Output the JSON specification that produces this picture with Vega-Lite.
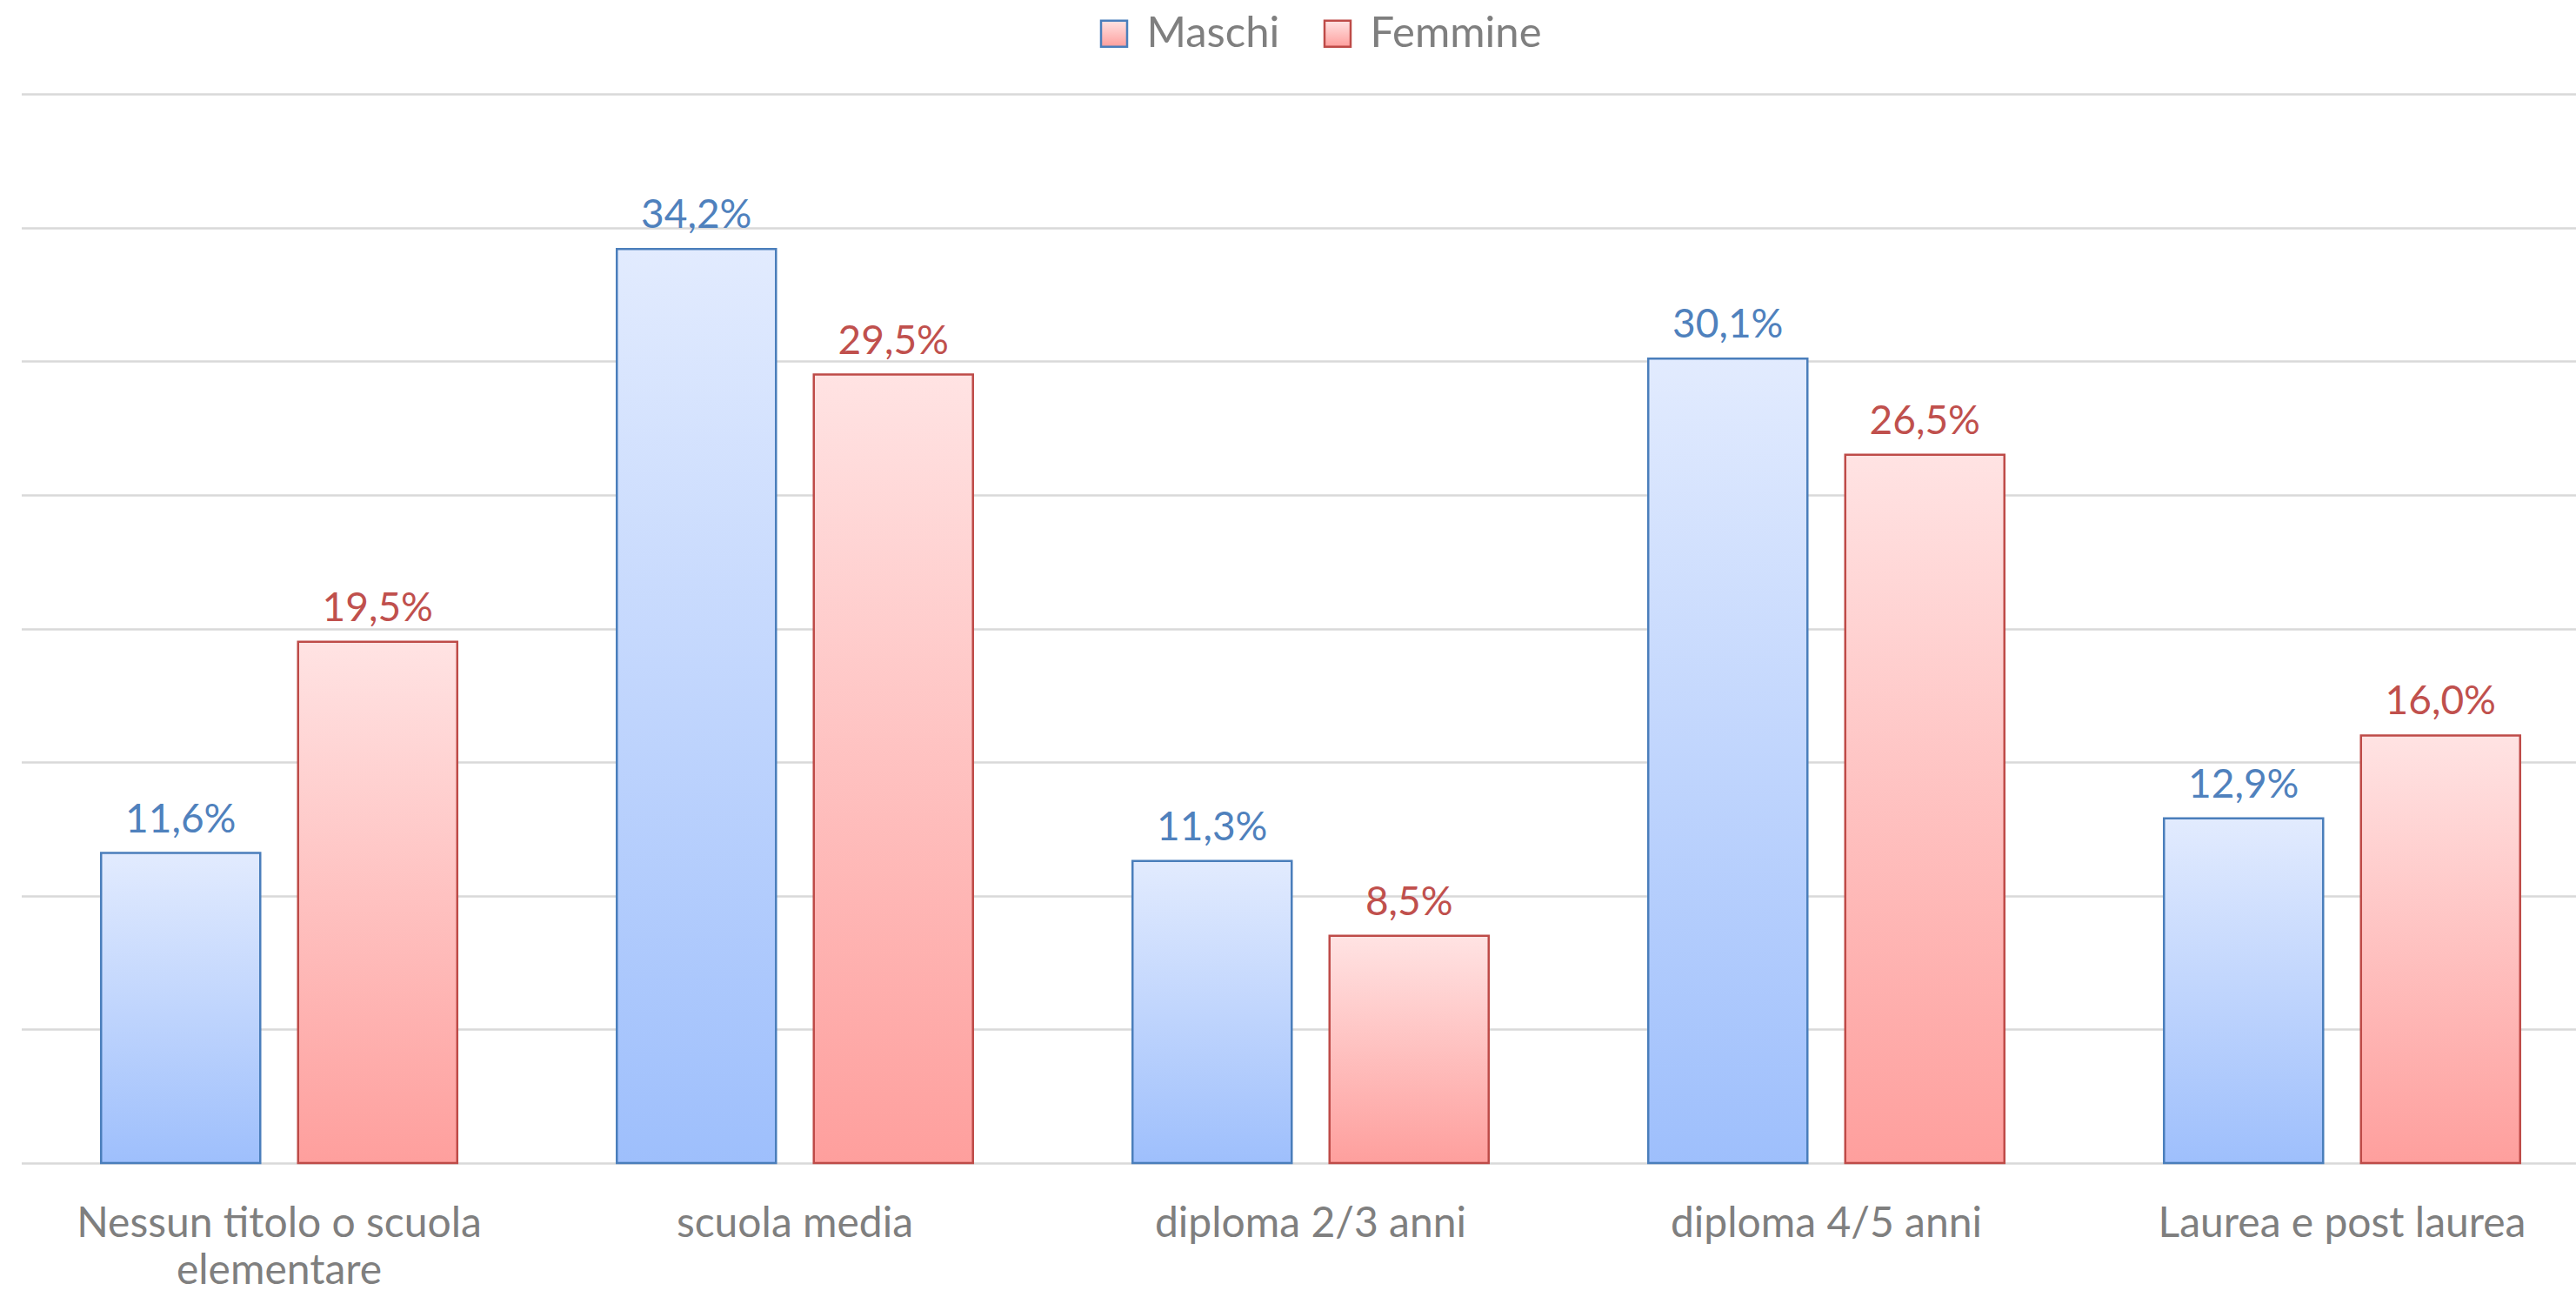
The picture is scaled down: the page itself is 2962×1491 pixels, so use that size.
{
  "$schema": "https://vega.github.io/schema/vega-lite/v6.json",
  "width": 2937.5,
  "height": 1229,
  "autosize": {"type": "none"},
  "padding": {"left": 24.5, "top": 108, "right": 0, "bottom": 154},
  "background": "white",
  "config": {
    "view": {"stroke": null},
    "font": "Lato",
    "locale": {"number": {"decimal": ",", "thousands": ".", "grouping": [3], "currency": ["€", ""]}}
  },
  "data": {
    "values": [
      {"titolo": "Nessun titolo o scuola elementare", "sesso": "Maschi", "quota": 0.116},
      {"titolo": "Nessun titolo o scuola elementare", "sesso": "Femmine", "quota": 0.195},
      {"titolo": "scuola media", "sesso": "Maschi", "quota": 0.342},
      {"titolo": "scuola media", "sesso": "Femmine", "quota": 0.295},
      {"titolo": "diploma 2/3 anni", "sesso": "Maschi", "quota": 0.113},
      {"titolo": "diploma 2/3 anni", "sesso": "Femmine", "quota": 0.085},
      {"titolo": "diploma 4/5 anni", "sesso": "Maschi", "quota": 0.301},
      {"titolo": "diploma 4/5 anni", "sesso": "Femmine", "quota": 0.265},
      {"titolo": "Laurea e post laurea", "sesso": "Maschi", "quota": 0.129},
      {"titolo": "Laurea e post laurea", "sesso": "Femmine", "quota": 0.16}
    ]
  },
  "encoding": {
    "x": {
      "field": "titolo",
      "type": "nominal",
      "sort": null,
      "scale": {"range": [0, 2965], "paddingInner": 0, "paddingOuter": 0},
      "axis": {
        "title": null,
        "ticks": false,
        "domain": false,
        "labelAngle": 0,
        "labelLimit": 0,
        "labelFontSize": 48,
        "labelColor": "#7F7F7F",
        "labelPadding": 46,
        "labelLineHeight": 54,
        "labelExpr": "datum.value == 'Nessun titolo o scuola elementare' ? ['Nessun titolo o scuola', 'elementare'] : datum.value"
      }
    },
    "xOffset": {
      "field": "sesso",
      "type": "nominal",
      "sort": ["Maschi", "Femmine"],
      "scale": {"paddingInner": 0.192, "paddingOuter": 0.405}
    },
    "y": {
      "field": "quota",
      "type": "quantitative",
      "scale": {"domain": [0, 0.4], "nice": false},
      "axis": {
        "title": null,
        "values": [0, 0.05, 0.1, 0.15, 0.2, 0.25, 0.3, 0.35, 0.4],
        "labels": false,
        "ticks": false,
        "domain": false,
        "gridColor": "#D9D9D9",
        "gridWidth": 2.5
      }
    }
  },
  "layer": [
    {
      "mark": {"type": "bar", "strokeWidth": 2.5},
      "encoding": {
        "fill": {
          "condition": {
            "test": "datum.sesso === 'Maschi'",
            "value": {"gradient": "linear", "x1": 0, "y1": 0, "x2": 0, "y2": 1, "stops": [{"offset": 0, "color": "#E2EBFE"}, {"offset": 1, "color": "#9EBFFC"}]}
          },
          "value": {"gradient": "linear", "x1": 0, "y1": 0, "x2": 0, "y2": 1, "stops": [{"offset": 0, "color": "#FFE3E3"}, {"offset": 1, "color": "#FE9F9D"}]}
        },
        "stroke": {
          "field": "sesso",
          "type": "nominal",
          "sort": ["Maschi", "Femmine"],
          "scale": {"domain": ["Maschi", "Femmine"], "range": ["#4A7EBB", "#BE4B48"]},
          "legend": {
            "title": null,
            "orient": "none",
            "legendX": 1232,
            "legendY": -94,
            "direction": "horizontal",
            "symbolType": "square",
            "symbolSize": 900,
            "symbolStrokeWidth": 2.5,
            "labelFontSize": 49,
            "labelLimit": 0,
            "labelColor": "#7F7F7F",
            "labelOffset": 13,
            "columnPadding": 42,
            "encode": {
              "symbols": {
                "update": {
                  "fill": [
                    {"test": "datum.value === 'Maschi'", "value": {"gradient": "linear", "x1": 0, "y1": 0, "x2": 0, "y2": 1, "stops": [{"offset": 0, "color": "#E2EBFE"}, {"offset": 1, "color": "#9EBFFC"}]}},
                    {"value": {"gradient": "linear", "x1": 0, "y1": 0, "x2": 0, "y2": 1, "stops": [{"offset": 0, "color": "#FFE3E3"}, {"offset": 1, "color": "#FE9F9D"}]}}
                  ],
                  "opacity": {"value": 1}
                }
              }
            }
          }
        }
      }
    },
    {
      "mark": {"type": "text", "baseline": "alphabetic", "align": "center", "dy": -24, "fontSize": 46},
      "encoding": {
        "text": {"field": "quota", "type": "quantitative", "format": ".1%"},
        "color": {
          "condition": {"test": "datum.sesso === 'Maschi'", "value": "#4F81BD"},
          "value": "#C0504D"
        }
      }
    }
  ]
}
